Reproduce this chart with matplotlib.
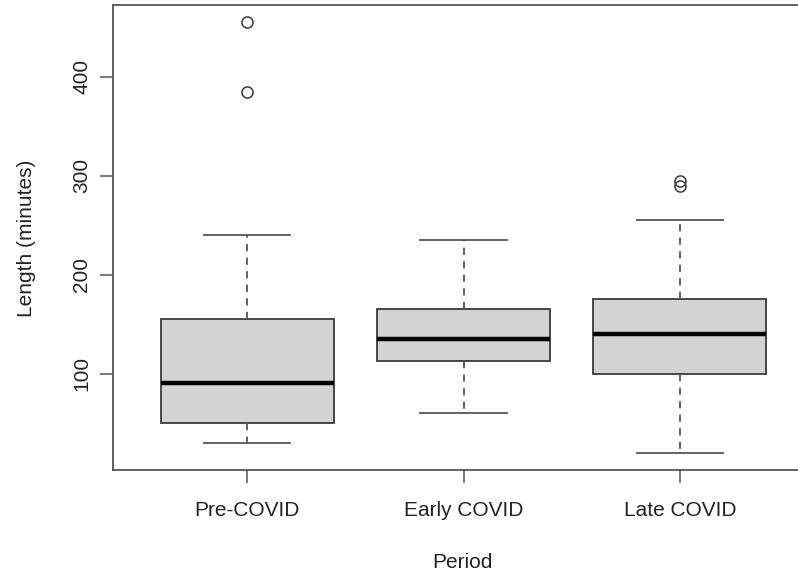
import matplotlib.pyplot as plt

plt.rcParams['font.family'] = ['Liberation Sans', 'DejaVu Sans']

# Box statistics (minutes)
periods = ["Pre-COVID", "Early COVID", "Late COVID"]
q1 = [50, 113, 100]
medians = [90, 135, 140]
q3 = [155, 165, 175]
whisker_lo = [30, 60, 20]
whisker_hi = [240, 235, 255]
outliers = [[385, 455], [], [290, 295]]
yticks = [100, 200, 300, 400]

stats = []
for i, name in enumerate(periods):
    stats.append({
        'label': name,
        'q1': q1[i], 'med': medians[i], 'q3': q3[i],
        'whislo': whisker_lo[i], 'whishi': whisker_hi[i],
        'fliers': outliers[i],
    })

W, H = 798, 579
fig = plt.figure(figsize=(W / 100, H / 100), dpi=100)
# R-style plot region; right edge runs off the canvas like the reference
ax = fig.add_axes([113 / W, (H - 470) / H, (814 - 113) / W, (470 - 5) / H])

edge = '#3a3a3a'
ax.bxp(stats, positions=[1, 2, 3], widths=0.8, capwidths=0.4,
       patch_artist=True,
       boxprops=dict(facecolor='#d3d3d3', edgecolor=edge, linewidth=1.3),
       medianprops=dict(color='black', linewidth=3.2, solid_capstyle='butt'),
       whiskerprops=dict(color='#555555', linewidth=1.3, linestyle=(0, (4, 3.5))),
       capprops=dict(color='#555555', linewidth=1.3),
       flierprops=dict(marker='o', markerfacecolor='none', markeredgecolor=edge,
                       markersize=8, markeredgewidth=1.1))

ax.set_xlim(0.38, 3.62)
ax.set_ylim(2.6, 472.4)
ax.set_yticks(yticks)
ax.set_xticks([1, 2, 3])
ax.set_xticklabels(periods)

for s in ax.spines.values():
    s.set_color('#555555')
    s.set_linewidth(1.3)

ax.tick_params(axis='both', length=9.5, width=1.1, color='#555555',
               labelsize=15, labelcolor='#222222')
ax.tick_params(axis='x', pad=13)
ax.tick_params(axis='y', pad=6)
for lab in ax.get_yticklabels():
    lab.set_rotation(90)
    lab.set_va('center')

fig.text(27 / W, 1 - 238 / H, 'Length (minutes)', rotation=90, ha='center',
         va='center', fontsize=15, color='#222222')
fig.text(462 / W, 1 - 562 / H, 'Period', ha='center', va='center',
         fontsize=15, color='#222222')

fig.savefig('out.png', dpi=100)
